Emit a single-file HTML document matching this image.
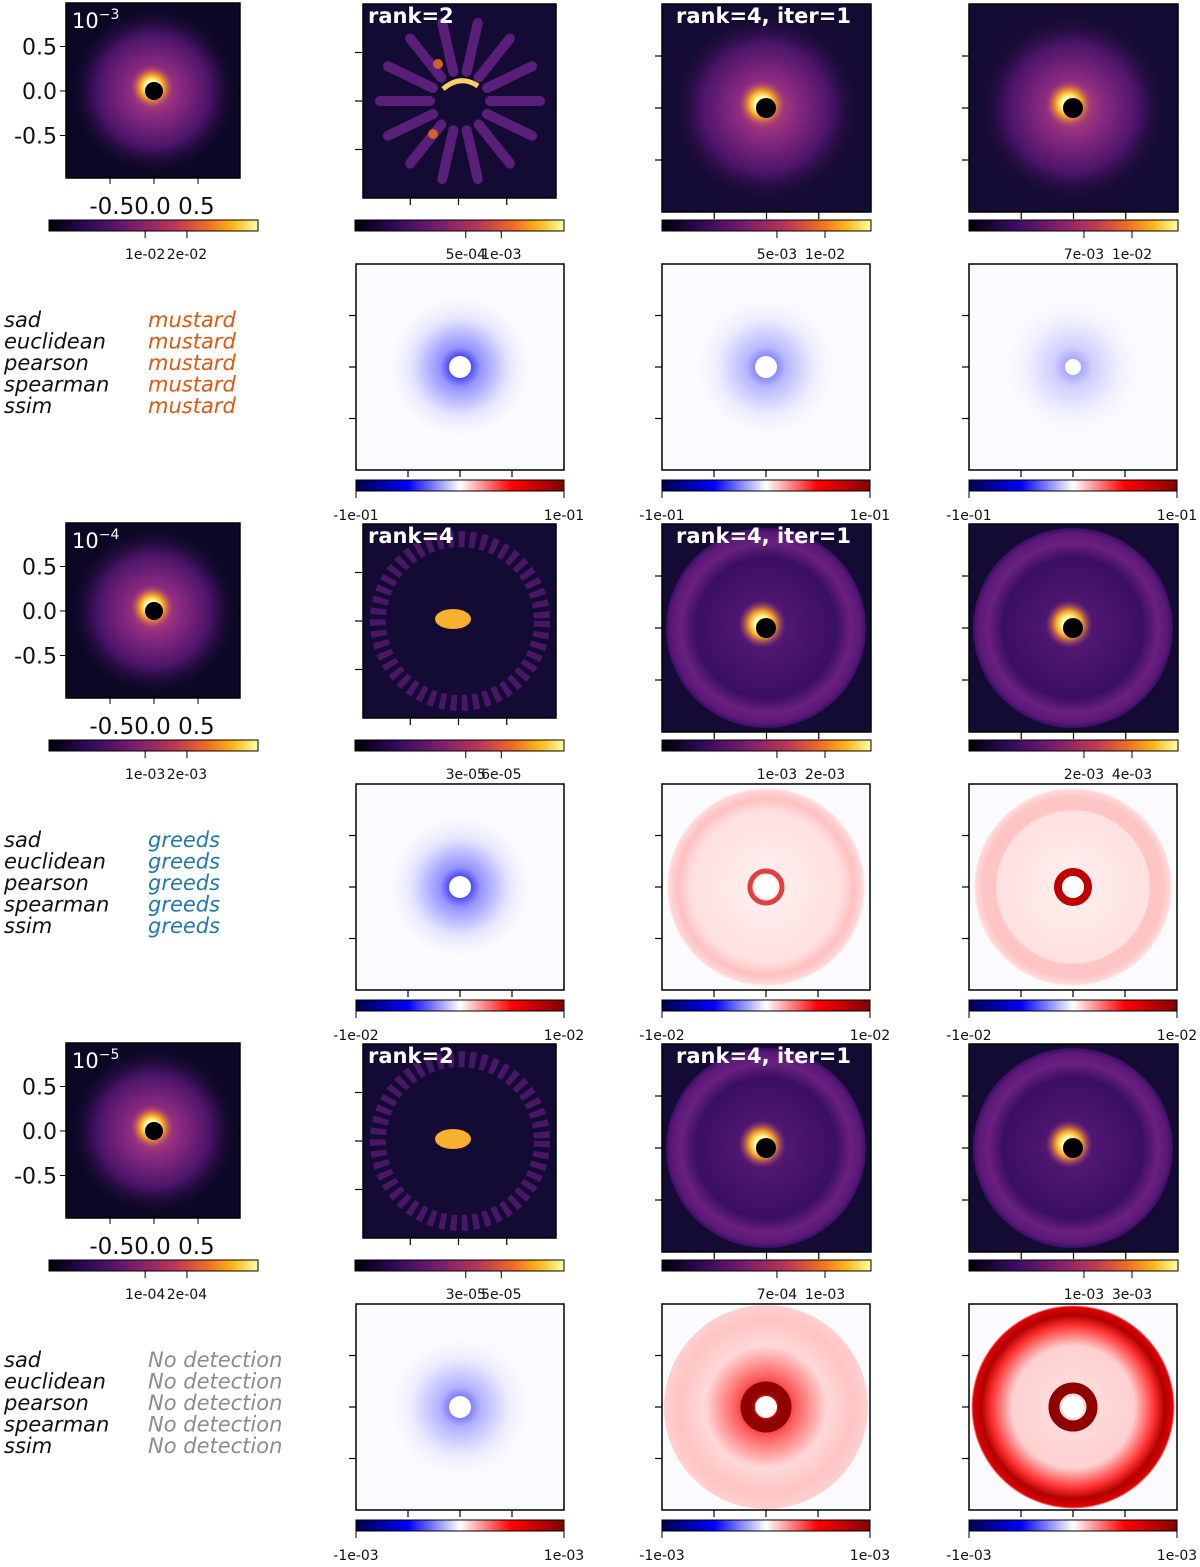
<!DOCTYPE html>
<html><head><meta charset="utf-8"><style>
html,body{margin:0;padding:0;background:#fff;}
svg text{font-family:"DejaVu Sans","Liberation Sans",sans-serif;}
</style></head><body>
<svg id="fig" xmlns="http://www.w3.org/2000/svg" width="1200" height="1562" viewBox="0 0 1200 1562">
<defs>
<linearGradient id="inferno" x1="0" x2="1" y1="0" y2="0">
<stop offset="0" stop-color="#000004"/><stop offset="0.2" stop-color="#320a5e"/><stop offset="0.4" stop-color="#781c6d"/><stop offset="0.6" stop-color="#bc3754"/><stop offset="0.75" stop-color="#ed6925"/><stop offset="0.88" stop-color="#fbb61a"/><stop offset="1" stop-color="#fcffa4"/>
</linearGradient>
<linearGradient id="seismic" x1="0" x2="1" y1="0" y2="0">
<stop offset="0" stop-color="#00004c"/><stop offset="0.25" stop-color="#0000ff"/><stop offset="0.5" stop-color="#ffffff"/><stop offset="0.75" stop-color="#ff0000"/><stop offset="1" stop-color="#800000"/>
</linearGradient>
<radialGradient id="glow"><stop offset="0" stop-color="#c04a70"/><stop offset="0.3" stop-color="#8a2a80"/><stop offset="0.65" stop-color="#4a1468"/><stop offset="1" stop-color="#0b0724" stop-opacity="0"/></radialGradient>
<radialGradient id="core"><stop offset="0.3" stop-color="#fcffa4"/><stop offset="0.55" stop-color="#f5a020"/><stop offset="1" stop-color="#a03a7a" stop-opacity="0"/></radialGradient>
<radialGradient id="blueglow"><stop offset="0.1" stop-color="#1010ff"/><stop offset="0.25" stop-color="#8080ff"/><stop offset="0.6" stop-color="#e0e0ff"/><stop offset="1" stop-color="#ffffff" stop-opacity="0"/></radialGradient>
<radialGradient id="redring"><stop offset="0" stop-color="#fff0f0"/><stop offset="0.75" stop-color="#ffe0e0"/><stop offset="0.88" stop-color="#ffc0c0"/><stop offset="0.97" stop-color="#ffd8d8"/><stop offset="1" stop-color="#ffffff"/></radialGradient>
<radialGradient id="redring2"><stop offset="0" stop-color="#ffe0e0"/><stop offset="0.6" stop-color="#ffd0d0"/><stop offset="0.8" stop-color="#ff3030"/><stop offset="0.9" stop-color="#b00000"/><stop offset="0.98" stop-color="#e00000"/><stop offset="1" stop-color="#ffffff"/></radialGradient>
<radialGradient id="reddisk"><stop offset="0.1" stop-color="#d00000"/><stop offset="0.3" stop-color="#ff6060"/><stop offset="0.6" stop-color="#ffd8d8"/><stop offset="0.85" stop-color="#ffc4c4"/><stop offset="1" stop-color="#ffd0d0"/></radialGradient>
<radialGradient id="purpdisk"><stop offset="0" stop-color="#5a1a78"/><stop offset="0.7" stop-color="#3a0f62"/><stop offset="0.85" stop-color="#6a2080"/><stop offset="0.95" stop-color="#5a1878"/><stop offset="1" stop-color="#3a0f62"/></radialGradient>
</defs>
</svg>
<script>
const groupExp = ["−3","−4","−5"];
const topCbTicks = [["1e-02","2e-02"],["1e-03","2e-03"],["1e-04","2e-04"]];
const col2CbTicks = [["5e-04","1e-03"],["3e-05","6e-05"],["3e-05","5e-05"]];
const col3CbTicks = [["5e-03","1e-02"],["1e-03","2e-03"],["7e-04","1e-03"]];
const col4CbTicks = [["7e-03","1e-02"],["2e-03","4e-03"],["1e-03","3e-03"]];
const diffRange = [["-1e-01","1e-01"],["-1e-02","1e-02"],["-1e-03","1e-03"]];
const metricNames = ["sad","euclidean","pearson","spearman","ssim"];
const detections = ["mustard","greeds","No detection"];
const detColors = ["#e2570f","#1f77b4","#8c8c8c"];
const col2Titles = ["rank=2","rank=4","rank=2"];
const col3Title = "rank=4, iter=1";
const xTickLabels = ["-0.5","0.0","0.5"];
const xTickVals = [-0.5,0,0.5];

const svg = document.getElementById('fig');
const NS = "http://www.w3.org/2000/svg";
function el(tag, attrs, parent){const e=document.createElementNS(NS,tag);for(const k in attrs)e.setAttribute(k,attrs[k]);(parent||svg).appendChild(e);return e;}
function txt(s, attrs, parent){const e=el('text',attrs,parent);e.textContent=s;return e;}

function frame(x,y,w,h,g){el('rect',{x:x,y:y,width:w,height:h,fill:'none',stroke:'#000','stroke-width':1.5},g);}
function sideTicks(x,y,w,h,g){
  for(let i=1;i<=3;i++){const ty=y+h*i/4;el('line',{x1:x-7,y1:ty,x2:x,y2:ty,stroke:'#000','stroke-width':1.2},g);}
  for(let i=1;i<=3;i++){const tx=x+w*i/4;el('line',{x1:tx,y1:y+h,x2:tx,y2:y+h+7,stroke:'#000','stroke-width':1.2},g);}
}
function colorbar(x,y,w,grad,ticks,fr,labY,g,name){
  const cb=el('g',{},g);
  
  
  el('rect',{x:x,y:y,width:w,height:11,fill:'url(#'+grad+')',stroke:'#000','stroke-width':1},cb);
  ticks.forEach((t,i)=>{const tx=x+w*fr[i];el('line',{x1:tx,y1:y+11,x2:tx,y2:y+18,stroke:'#000','stroke-width':1},cb);
    txt(t,{x:tx,y:labY,'font-size':14,'text-anchor':'middle',fill:'#111'},cb);});
}

function drawDisk(g,x,y,w,h,cx,cy){
  el('rect',{x:x,y:y,width:w,height:h,fill:'#0b0724'},g);
  el('circle',{cx:cx,cy:cy,r:w*0.5,fill:'url(#glow)'},g);
  el('circle',{cx:cx-2,cy:cy-4,r:22,fill:'url(#core)'},g);
  el('circle',{cx:cx,cy:cy,r:9,fill:'#000004'},g);
}

for(let gi=0;gi<3;gi++){
  const oy=gi*520;
  const G=el('g',{});
  
  

  const p1=el('g',{},G);
  
  
  const x1=66,y1=3+oy,w1=174,h1=175;
  drawDisk(p1,x1,y1,w1,h1,x1+88,y1+88);
  frame(x1,y1,w1,h1,p1);
  const e=txt('10',{x:x1+6,y:y1+25,'font-size':21,fill:'#fff'},p1);
  const sup=el('tspan',{dy:-9,'font-size':14},e); sup.textContent=groupExp[gi];
  const ymap=v=>y1+88-v*89, xmap=v=>x1+88+v*88;
  xTickVals.forEach((v,i)=>{
    el('line',{x1:x1-6,y1:ymap(v),x2:x1,y2:ymap(v),stroke:'#000'},p1);
    txt(xTickLabels[i],{x:x1-9,y:ymap(v)+8,'font-size':22,'text-anchor':'end',fill:'#111'},p1);
    el('line',{x1:xmap(v),y1:y1+h1,x2:xmap(v),y2:y1+h1+6,stroke:'#000'},p1);
  });
  txt('-0.50.0 0.5',{x:x1+86,y:y1+211,'font-size':23,'text-anchor':'middle',fill:'#111'},p1);
  colorbar(49,220+oy,209,'inferno',topCbTicks[gi],[0.46,0.66],259+oy,G,'model-colorbar');

  const p2=el('g',{},G);
  
  
  const x2=363,y2=4+oy,w2=193,h2=194;
  el('rect',{x:x2,y:y2,width:w2,height:h2,fill:'#140b34'},p2);
  if(gi===0){
    for(let k=0;k<14;k++){const a=k*Math.PI*2/14;
      el('line',{x1:x2+97+Math.cos(a)*30,y1:y2+97+Math.sin(a)*30,x2:x2+97+Math.cos(a)*80,y2:y2+97+Math.sin(a)*80,stroke:'#5a1f78','stroke-width':10,'stroke-linecap':'round'},p2);}
    el('path',{d:`M${x2+80} ${y2+85} Q${x2+97} ${y2+70} ${x2+115} ${y2+82}`,stroke:'#fcd060','stroke-width':5,fill:'none'},p2);
    el('circle',{cx:x2+75,cy:y2+60,r:5,fill:'#d06030'},p2);
    el('circle',{cx:x2+70,cy:y2+130,r:5,fill:'#d06030'},p2);
  } else {
    el('circle',{cx:x2+97,cy:y2+97,r:82,fill:'none',stroke:'#4a1768','stroke-width':16,'stroke-dasharray':'6 5'},p2);
    el('ellipse',{cx:x2+90,cy:y2+95,rx:18,ry:10,fill:'#f8b030'},p2);
  }
  frame(x2,y2,w2,h2,p2);
  txt(col2Titles[gi],{x:x2+5,y:y2+19,'font-size':21,'font-weight':'bold',fill:'#fff'},p2);
  sideTicks(x2-1,y2,w2,h2+0,p2);
  colorbar(355,220+oy,209,'inferno',col2CbTicks[gi],[0.53,0.7],259+oy,G,'rank-colorbar');

  [[662,col3CbTicks[gi],[0.55,0.78],true],[969,col4CbTicks[gi],[0.55,0.78],false]].forEach(([xc,ticks,fr,title],ci)=>{
    const p=el('g',{},G);
    
    
    const y=4+oy,w=209,h=208,cx=xc+104,cy=y+104;
    el('rect',{x:xc,y:y,width:w,height:h,fill:'#140b34'},p);
    if(gi===0){ el('circle',{cx:cx,cy:cy,r:100,fill:'url(#glow)'},p); }
    else { el('circle',{cx:cx,cy:cy,r:100,fill:'url(#purpdisk)'},p); }
    el('circle',{cx:cx-4,cy:cy-4,r:24,fill:'url(#core)'},p);
    el('circle',{cx:cx,cy:cy,r:10,fill:'#000004'},p);
    frame(xc,y,w,h,p);
    if(title) txt(col3Title,{x:xc+14,y:y+19,'font-size':21,'font-weight':'bold',fill:'#fff'},p);
    sideTicks(xc,y,w,h,p);
    colorbar(xc,220+oy,209,'inferno',ticks,fr,259+oy,G,'residual-colorbar');
  });

  const lab=el('g',{},G);
  
  
  metricNames.forEach((m,i)=>{
    txt(m,{x:4,y:327+oy+i*21.5,'font-size':21,'font-style':'italic',fill:'#111'},lab);
    txt(detections[gi],{x:148,y:327+oy+i*21.5,'font-size':21,'font-style':'italic',fill:detColors[gi]},lab);
  });

  [356,662,969].forEach((xd,di)=>{
    const p=el('g',{},G);
    
    
    const y=264+oy,w=208,h=206,cx=xd+104,cy=y+103;
    el('rect',{x:xd,y:y,width:w,height:h,fill:'#fbfbff'},p);
    const key=gi*3+di;
    if(gi===0 || key===3){
      el('circle',{cx:cx,cy:cy,r:80,fill:'url(#blueglow)',opacity:di===2?0.35:(di===1?0.55:0.85)},p);
    } else if(key===4){ el('circle',{cx:cx,cy:cy,r:100,fill:'url(#redring)'},p);
      el('circle',{cx:cx,cy:cy,r:16,fill:'none',stroke:'#e04040','stroke-width':5},p);}
    else if(key===5){ el('circle',{cx:cx,cy:cy,r:100,fill:'url(#redring)'},p);
      el('circle',{cx:cx,cy:cy,r:84,fill:'none',stroke:'#ffc4c4','stroke-width':14},p);
      el('circle',{cx:cx,cy:cy,r:15,fill:'none',stroke:'#c00000','stroke-width':8},p);}
    else if(key===6){ el('circle',{cx:cx,cy:cy,r:80,fill:'url(#blueglow)',opacity:0.6},p);}
    else if(key===7){ el('circle',{cx:cx,cy:cy,r:102,fill:'url(#reddisk)'},p);
      el('circle',{cx:cx,cy:cy,r:19,fill:'none',stroke:'#900000','stroke-width':13},p);}
    else { el('circle',{cx:cx,cy:cy,r:102,fill:'url(#redring2)'},p);
      el('circle',{cx:cx,cy:cy,r:19,fill:'none',stroke:'#900000','stroke-width':11},p);}
    el('circle',{cx:cx,cy:cy,r:(di===2&&gi===0)?8:11,fill:'#ffffff'},p);
    frame(xd,y,w,h,p);
    sideTicks(xd,y,w,h,p);
    const cb=el('g',{},G);
    
    
    el('rect',{x:xd,y:480+oy,width:w,height:11,fill:'url(#seismic)',stroke:'#000','stroke-width':1},cb);
    [0,1].forEach(k=>{const tx=xd+w*k;el('line',{x1:tx,y1:491+oy,x2:tx,y2:498+oy,stroke:'#000'},cb);
      txt(diffRange[gi][k],{x:tx,y:520+oy,'font-size':14,'text-anchor':'middle',fill:'#111'},cb);});
  });
}
</script>
</body></html>
